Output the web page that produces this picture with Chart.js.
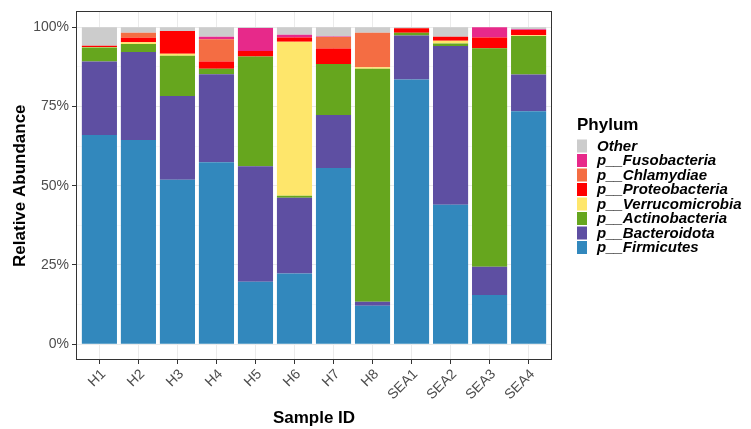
<!DOCTYPE html>
<html>
<head>
<meta charset="utf-8">
<script src="https://cdn.jsdelivr.net/npm/chart.js@4"></script>
<style>
  html, body { margin: 0; padding: 0; background: #ffffff; }
  #wrap { width: 751px; height: 429px; position: relative; }
</style>
</head>
<body>
<div id="wrap"><canvas id="c" width="751" height="429"></canvas></div>
<script>
// ---- data (relative abundance, %) ----
const categories = ['H1','H2','H3','H4','H5','H6','H7','H8','SEA1','SEA2','SEA3','SEA4'];
const firmicutes      = [66.0, 64.4, 51.9, 57.4, 19.7, 22.3, 55.6, 12.1, 83.5, 44.0, 15.5, 73.5];
const bacteroidota    = [23.2, 27.8, 26.4, 27.8, 36.4, 23.9, 16.7,  1.3, 13.9, 50.1,  8.9, 11.6];
const actinobacteria  = [ 4.4,  2.5, 12.7,  1.7, 34.7,  0.6, 16.1, 73.5,  0.9,  0.8, 69.0, 12.1];
const verrucomicrobia = [ 0.2,  0.6,  0.6,  0.0,  0.0, 48.6,  0.0,  0.5,  0.0,  0.8,  0.0,  0.3];
const proteobacteria  = [ 0.4,  1.4,  7.2,  2.3,  1.7,  1.4,  4.9,  0.0,  1.4,  1.3,  3.4,  1.6];
const chlamydiae      = [ 0.0,  1.6,  0.0,  7.0,  0.0,  0.0,  3.6, 10.9,  0.0,  0.0,  0.0,  0.0];
const fusobacteria    = [ 0.0,  0.0,  0.0,  0.8,  7.3,  0.8,  0.2,  0.0,  0.0,  0.0,  3.2,  0.3];
const other           = [ 5.8,  1.7,  1.2,  3.0,  0.2,  2.4,  2.9,  1.7,  0.3,  3.0,  0.0,  0.6];
const yTickValues = [0, 25, 50, 75, 100];
const yMinorValues = [12.5, 37.5, 62.5, 87.5];

const seriesNames  = ['p__Firmicutes','p__Bacteroidota','p__Actinobacteria','p__Verrucomicrobia','p__Proteobacteria','p__Chlamydiae','p__Fusobacteria','Other'];
const seriesValues = [firmicutes, bacteroidota, actinobacteria, verrucomicrobia, proteobacteria, chlamydiae, fusobacteria, other];
const seriesColors = ['#3288BD','#5E4FA2','#66A61E','#FEE66B','#FF0000','#F46D43','#E7298A','#CCCCCC'];

const FONT = "'Liberation Sans', Arial, Helvetica, sans-serif";

const datasets = seriesNames.map((name, k) => ({
  label: name,
  data: seriesValues[k].map((v, i) => ({ x: i, y: v })),
  backgroundColor: seriesColors[k],
  borderWidth: 0,
  barPercentage: 1.0,
  categoryPercentage: 0.9
}));

const panelBorder = {
  id: 'panelBorder',
  afterDatasetsDraw(chart) {
    const { ctx, chartArea: a } = chart;
    ctx.save();
    ctx.strokeStyle = '#333333';
    ctx.lineWidth = 1;
    ctx.strokeRect(Math.round(a.left) + 0.5, Math.round(a.top) + 0.5,
                   Math.round(a.right - a.left) - 1, Math.round(a.bottom - a.top) - 1);
    ctx.restore();
  }
};

const ggLegend = {
  id: 'ggLegend',
  afterDraw(chart) {
    const { ctx } = chart;
    const ds = chart.data.datasets.slice().reverse();
    ctx.save();
    ctx.fillStyle = '#000000';
    ctx.textAlign = 'left';
    ctx.textBaseline = 'alphabetic';
    ctx.font = 'bold 17px ' + FONT;
    ctx.fillText('Phylum', 577, 129.5);
    const x0 = 577, y0 = 146, step = 14.5;
    ds.forEach((d, i) => {
      const cy = y0 + i * step;
      ctx.fillStyle = d.backgroundColor;
      ctx.fillRect(x0, cy - 6.5, 10, 13);
      ctx.fillStyle = '#000000';
      ctx.font = 'italic bold 15px ' + FONT;
      ctx.textBaseline = 'middle';
      ctx.fillText(d.label, 597, cy + 0.5);
    });
    ctx.restore();
  }
};

new Chart(document.getElementById('c'), {
  type: 'bar',
  data: { datasets },
  options: {
    responsive: false,
    animation: false,
    devicePixelRatio: 1,
    layout: { padding: { left: 0, right: 199, top: 5, bottom: 0 } },
    plugins: {
      legend: { display: false },
      tooltip: { enabled: false }
    },
    scales: {
      x: {
        type: 'linear',
        stacked: true,
        offset: false,
        min: -0.6,
        max: categories.length - 1 + 0.6,
        afterBuildTicks: (s) => { s.ticks = categories.map((c, i) => ({ value: i })); },
        afterFit: (s) => { s.height = 69; },
        ticks: {
          autoSkip: false,
          minRotation: 45,
          maxRotation: 45,
          padding: 2,
          labelOffset: 4,
          color: '#4D4D4D',
          font: { family: FONT, size: 14 },
          callback: (v) => categories[v]
        },
        grid: { offset: false, color: '#EBEBEB', lineWidth: 1, tickLength: 4, tickColor: '#333333', drawOnChartArea: true },
        border: { display: false },
        title: {
          display: true,
          text: 'Sample ID',
          color: '#000000',
          font: { family: FONT, size: 17, weight: 'bold' },
          padding: { top: 8, bottom: 0 }
        }
      },
      y: {
        type: 'linear',
        stacked: true,
        min: -5,
        max: 105,
        afterBuildTicks: (s) => {
          s.ticks = yTickValues.concat(yMinorValues).sort((a, b) => a - b).map(v => ({ value: v }));
        },
        afterFit: (s) => { s.width = 76; },
        ticks: {
          autoSkip: false,
          padding: 3,
          color: '#4D4D4D',
          font: { family: FONT, size: 14 },
          callback: (v) => yTickValues.includes(v) ? v + '%' : ''
        },
        grid: {
          color: (c) => (c.tick && yTickValues.includes(c.tick.value)) ? '#EBEBEB' : '#F3F3F3',
          lineWidth: (c) => (c.tick && yTickValues.includes(c.tick.value)) ? 1 : 0.6,
          tickLength: 4,
          tickColor: (c) => (c.tick && yTickValues.includes(c.tick.value)) ? '#333333' : 'rgba(0,0,0,0)'
        },
        border: { display: false },
        title: {
          display: true,
          text: 'Relative Abundance',
          color: '#000000',
          font: { family: FONT, size: 17, weight: 'bold' },
          padding: { top: 10, bottom: 0 }
        }
      }
    }
  },
  plugins: [panelBorder, ggLegend]
});
</script>
</body>
</html>
